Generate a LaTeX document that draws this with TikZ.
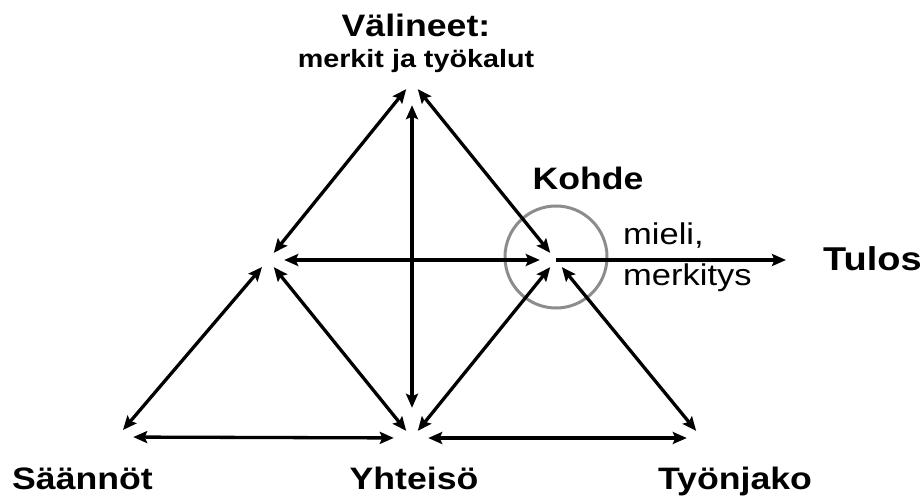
\documentclass[tikz,border=0pt]{standalone}
\usepackage{fontspec}
\setmainfont{Liberation Sans}[FakeStretch=1.15]
\usetikzlibrary{arrows.meta}
\tikzset{
  karki/.style={circle, minimum size=18pt, inner sep=0pt},
  nuoli/.style={line width=3.3pt, {Stealth[length=14pt,width=12pt,inset=2.5pt]}-{Stealth[length=14pt,width=12pt,inset=2.5pt]}},
  yksi/.style={line width=3.3pt, -{Stealth[length=14pt,width=12pt,inset=2.5pt]}},
  otsikko/.style={font=\bfseries\fontsize{31}{31}\selectfont, anchor=base, inner sep=0pt}
}
\begin{document}
\begin{tikzpicture}[x=1pt, y=-1pt]
    \useasboundingbox (0,0) rectangle (924,497);
    % kärjet
    \node[karki] (T) at (412,82) {};
    \node[karki] (S) at (268,260) {};
    \node[karki] (O) at (556,260) {};
    \node[karki] (R) at (117,437) {};
    \node[karki] (C) at (412,438) {};
    \node[karki] (D) at (702,438) {};
    \coordinate (tulo) at (786,260);

    % kohteen ympyrä
    \draw[gray!90, line width=3pt] (556,257) circle (51pt);

    % yläkolmio
    \draw[nuoli] (T) -- (S);
    \draw[nuoli] (T) -- (O);
    \draw[nuoli, shorten <=14pt, shorten >=21pt] (T) -- (C);
    \draw[nuoli, shorten <=7pt, shorten >=7pt] (S) -- (O);
    \draw[yksi] (O.center) -- (tulo);

    % alakolmiot
    \draw[nuoli] (R) -- (S);
    \draw[nuoli] (S) -- (C);
    \draw[nuoli] (C) -- (O);
    \draw[nuoli] (D) -- (O);
    \draw[nuoli, shorten <=7pt, shorten >=9pt] (R) -- (C);
    \draw[nuoli, shorten <=7pt, shorten >=6pt] (C) -- (D);

    % tekstit
    \node[otsikko] (valineet) at (416,37) {Välineet:};
    \node[otsikko, font=\bfseries\fontsize{25}{25}\selectfont] (merkit) at (416,68) {merkit ja työkalut};
    \node[otsikko] (kohde) at (588,190) {Kohde};
    \node[otsikko, anchor=base west, font=\fontsize{30}{30}\selectfont] (mieli) at (623,245) {mieli,};
    \node[otsikko, anchor=base west, font=\fontsize{30}{30}\selectfont] (merkitys) at (623,286) {merkitys};
    \node[otsikko, anchor=base west, font=\bfseries\fontsize{33}{33}\selectfont] (tulos) at (823,270) {Tulos};
    \node[otsikko, anchor=base west] (saannot) at (12,489) {Säännöt};
    \node[otsikko] (yhteiso) at (414,489) {Yhteisö};
    \node[otsikko] (tyonjako) at (735,489) {Työnjako};
\end{tikzpicture}
\end{document}
